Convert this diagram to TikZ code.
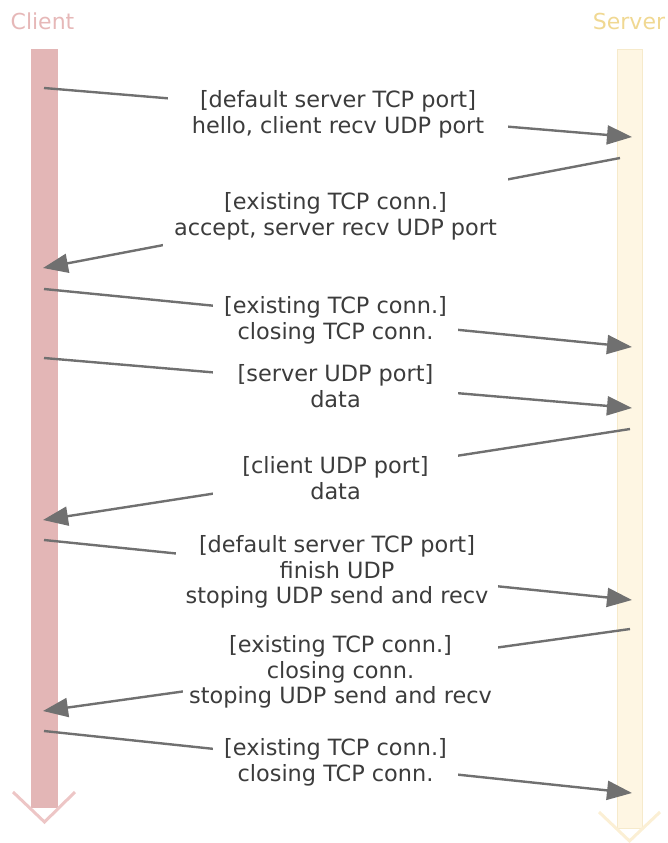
\documentclass[tikz,border=0pt]{standalone}
\usepackage{fontspec}
\setmainfont{DejaVu Sans}
\usetikzlibrary{arrows.meta}
\definecolor{clientbar}{HTML}{E3B6B6}
\definecolor{clientchev}{HTML}{EDC6C6}
\definecolor{clienttxt}{HTML}{E6B8B8}
\definecolor{serverbar}{HTML}{FEF6E3}
\definecolor{serveredge}{HTML}{F6EACB}
\definecolor{serverchev}{HTML}{FBEFD4}
\definecolor{servertxt}{HTML}{F0D892}
\definecolor{msgline}{HTML}{707070}
\definecolor{msgtxt}{HTML}{3C3C3C}
\tikzset{
  msg/.style={draw=msgline, line width=2.4pt, -{Triangle[length=25pt,width=19pt]}},
  msgbox/.style={fill=white, inner xsep=0pt, inner ysep=4pt, align=center,
    text=msgtxt, font=\fontsize{22.4}{25.8}\selectfont},
  lifelabel/.style={font=\fontsize{22}{25}\selectfont, inner sep=0pt},
}
\begin{document}
\begin{tikzpicture}[x=1pt,y=-1pt]
\useasboundingbox (0,0) rectangle (667,843);
% lifelines
\node[lifelabel, text=clienttxt] (clientlbl) at (42.5,21) {Client};
\node[lifelabel, text=servertxt] (serverlbl) at (629,21) {Server};
\fill[clientbar] (31,49) rectangle (58,808);
\draw[clientchev, line width=3pt] (13,792) -- (44.5,822) -- (75,792);
\draw[serveredge, fill=serverbar, line width=0.6pt] (617,49) rectangle (642,828);
\draw[serverchev, line width=3pt] (599,812) -- (629.5,841) -- (660,812);
% endpoints
\coordinate (c1) at (44,88);   \coordinate (s1) at (632,137);
\coordinate (s2) at (620,158); \coordinate (c2) at (43,268);
\coordinate (c3) at (44,289);  \coordinate (s3) at (632,347);
\coordinate (c4) at (44,358);  \coordinate (s4) at (632,408);
\coordinate (s5) at (630,429); \coordinate (c5) at (43,520);
\coordinate (c6) at (44,540);  \coordinate (s6) at (632,600);
\coordinate (s7) at (630,629); \coordinate (c7) at (43,711);
\coordinate (c8) at (44,731);  \coordinate (s8) at (632,793);
% messages
\draw[msg] (c1) -- (s1);
\draw[msg] (s2) -- (c2);
\draw[msg] (c3) -- (s3);
\draw[msg] (c4) -- (s4);
\draw[msg] (s5) -- (c5);
\draw[msg] (c6) -- (s6);
\draw[msg] (s7) -- (c7);
\draw[msg] (c8) -- (s8);
% labels
\node[msgbox, minimum width=340pt] (t1) at (338,114) {[default server TCP port]\\hello, client recv UDP port};
\node[msgbox, minimum width=345pt, minimum height=76pt] (t2) at (335.5,216) {[existing TCP conn.]\\accept, server recv UDP port};
\node[msgbox, minimum width=245pt] (t3) at (335.5,320) {[existing TCP conn.]\\closing TCP conn.};
\node[msgbox, minimum width=245pt] (t4) at (335.5,386) {[server UDP port]\\data};
\node[msgbox, minimum width=245pt] (t5) at (335.5,478) {[client UDP port]\\data};
\node[msgbox, minimum width=322pt] (t6) at (337,572) {[default server TCP port]\\finish UDP\\stoping UDP send and recv};
\node[msgbox, minimum width=315pt] (t7) at (340.5,672) {[existing TCP conn.]\\closing conn.\\stoping UDP send and recv};
\node[msgbox, minimum width=245pt] (t8) at (335.5,762) {[existing TCP conn.]\\closing TCP conn.};
\end{tikzpicture}
\end{document}
